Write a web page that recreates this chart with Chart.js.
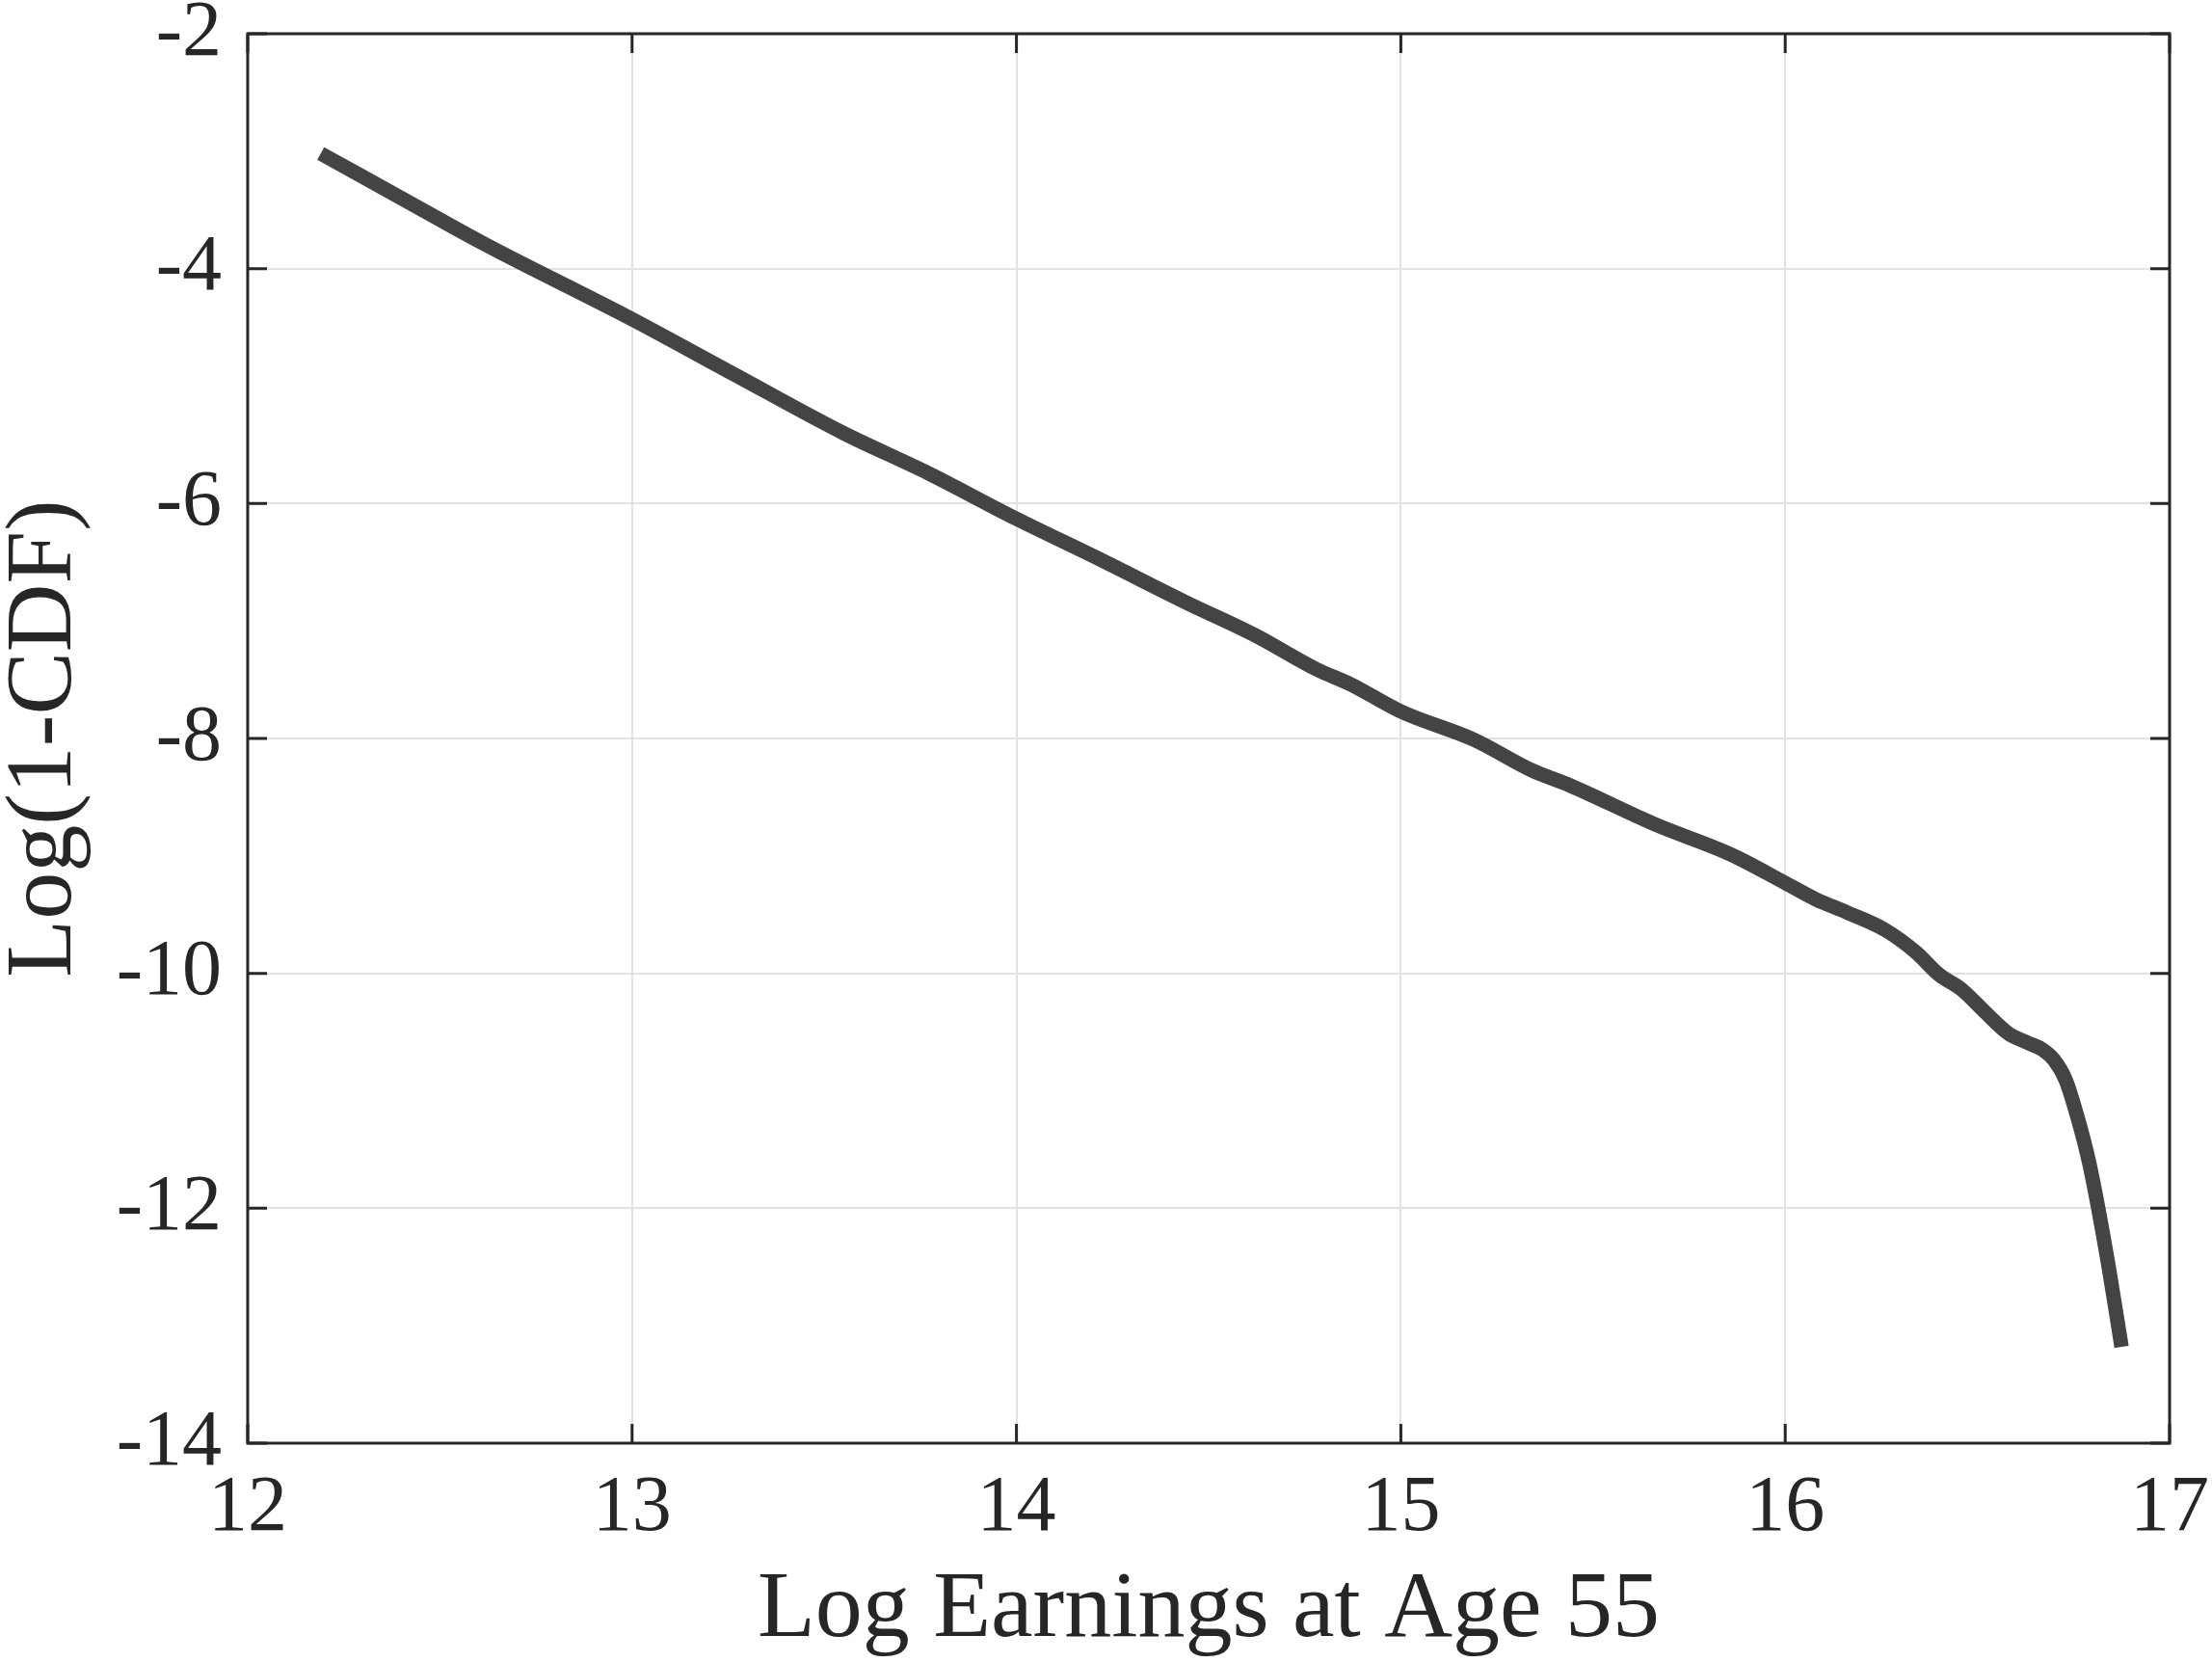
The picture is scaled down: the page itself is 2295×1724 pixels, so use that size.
<!DOCTYPE html>
<html>
<head>
<meta charset="utf-8">
<script src="https://cdn.jsdelivr.net/npm/chart.js@4/dist/chart.umd.min.js"></script>
<style>
  html, body { margin: 0; padding: 0; background: #ffffff; }
  #wrap { width: 2295px; height: 1724px; position: relative; }
</style>
</head>
<body>
<div id="wrap"><canvas id="c" width="2295" height="1724"></canvas></div>
<script>
// ---- data ----
const logEarnings = [12.19, 12.40, 12.61, 13.00, 13.26, 13.55, 13.77, 14.00, 14.22, 14.44,
  14.62, 14.78, 14.87, 15.00, 15.19, 15.34, 15.44, 15.66, 15.86, 16.00,
  16.08, 16.16, 16.26, 16.34, 16.40, 16.46, 16.52, 16.58, 16.63, 16.67,
  16.70, 16.73, 16.76, 16.79, 16.815, 16.84, 16.86, 16.875];
const logOneMinusCdf = [-3.02, -3.40, -3.78, -4.43, -4.89, -5.40, -5.74, -6.13, -6.48, -6.84,
  -7.12, -7.41, -7.54, -7.77, -8.01, -8.27, -8.40, -8.73, -8.99, -9.23,
  -9.37, -9.48, -9.63, -9.82, -10.01, -10.14, -10.33, -10.51, -10.59, -10.65,
  -10.74, -10.91, -11.22, -11.60, -12.01, -12.47, -12.87, -13.18];
const xTicks = [12, 13, 14, 15, 16, 17];
const yTicks = [-2, -4, -6, -8, -10, -12, -14];
const xTitle = 'Log Earnings at Age 55';
const yTitle = 'Log(1-CDF)';

const points = logEarnings.map((x, i) => ({ x: x, y: logOneMinusCdf[i] }));

const AXIS = '#262626';
const GRID = '#e2e2e2';
const SERIF = '"Liberation Serif", "Times New Roman", serif';

const boxAndTicks = {
  id: 'boxAndTicks',
  afterDraw(chart) {
    const { ctx, chartArea: a, scales } = chart;
    const L = 20;
    ctx.save();
    ctx.strokeStyle = AXIS;
    ctx.lineWidth = 3;
    ctx.beginPath();
    xTicks.forEach(v => {
      const p = scales.x.getPixelForValue(v);
      ctx.moveTo(p, a.bottom); ctx.lineTo(p, a.bottom - L);
      ctx.moveTo(p, a.top); ctx.lineTo(p, a.top + L);
    });
    yTicks.forEach(v => {
      const p = scales.y.getPixelForValue(v);
      ctx.moveTo(a.left, p); ctx.lineTo(a.left + L, p);
      ctx.moveTo(a.right, p); ctx.lineTo(a.right - L, p);
    });
    ctx.stroke();
    ctx.strokeRect(a.left, a.top, a.right - a.left, a.bottom - a.top);
    ctx.restore();
  }
};

new Chart(document.getElementById('c'), {
  type: 'line',
  data: {
    datasets: [{
      data: points,
      borderColor: '#444444',
      borderWidth: 15,
      borderCapStyle: 'butt',
      borderJoinStyle: 'round',
      pointRadius: 0,
      fill: false,
      cubicInterpolationMode: 'monotone'
    }]
  },
  options: {
    responsive: false,
    animation: false,
    devicePixelRatio: 1,
    layout: { padding: { top: 35, right: 44, left: 0, bottom: 0 } },
    plugins: { legend: { display: false }, tooltip: { enabled: false } },
    scales: {
      x: {
        type: 'linear',
        min: 12, max: 17,
        afterBuildTicks: s => { s.ticks = xTicks.map(v => ({ value: v })); },
        afterFit: s => { s.height = 227; s.paddingLeft = 0; s.paddingRight = 0; },
        grid: { color: GRID, lineWidth: 2, drawTicks: false },
        border: { display: false },
        ticks: {
          color: AXIS,
          padding: 36,
          maxRotation: 0,
          font: { family: SERIF, size: 82, lineHeight: 0.8 },
          callback: v => String(v)
        },
        title: {
          display: true,
          text: xTitle,
          color: AXIS,
          padding: { top: 0, bottom: 8 },
          font: { family: SERIF, size: 98, lineHeight: 0.92 }
        }
      },
      y: {
        type: 'linear',
        min: -14, max: -2,
        afterBuildTicks: s => { s.ticks = yTicks.map(v => ({ value: v })); },
        afterFit: s => { s.width = 257; s.paddingTop = 0; s.paddingBottom = 0; },
        grid: { color: GRID, lineWidth: 2, drawTicks: false },
        border: { display: false },
        ticks: {
          color: AXIS,
          padding: 27,
          font: { family: SERIF, size: 82, lineHeight: 0.8 },
          callback: v => String(v)
        },
        title: {
          display: true,
          text: yTitle,
          color: AXIS,
          padding: { top: 2, bottom: 0 },
          font: { family: SERIF, size: 98, lineHeight: 0.92 }
        }
      }
    }
  },
  plugins: [boxAndTicks]
});
</script>
</body>
</html>
